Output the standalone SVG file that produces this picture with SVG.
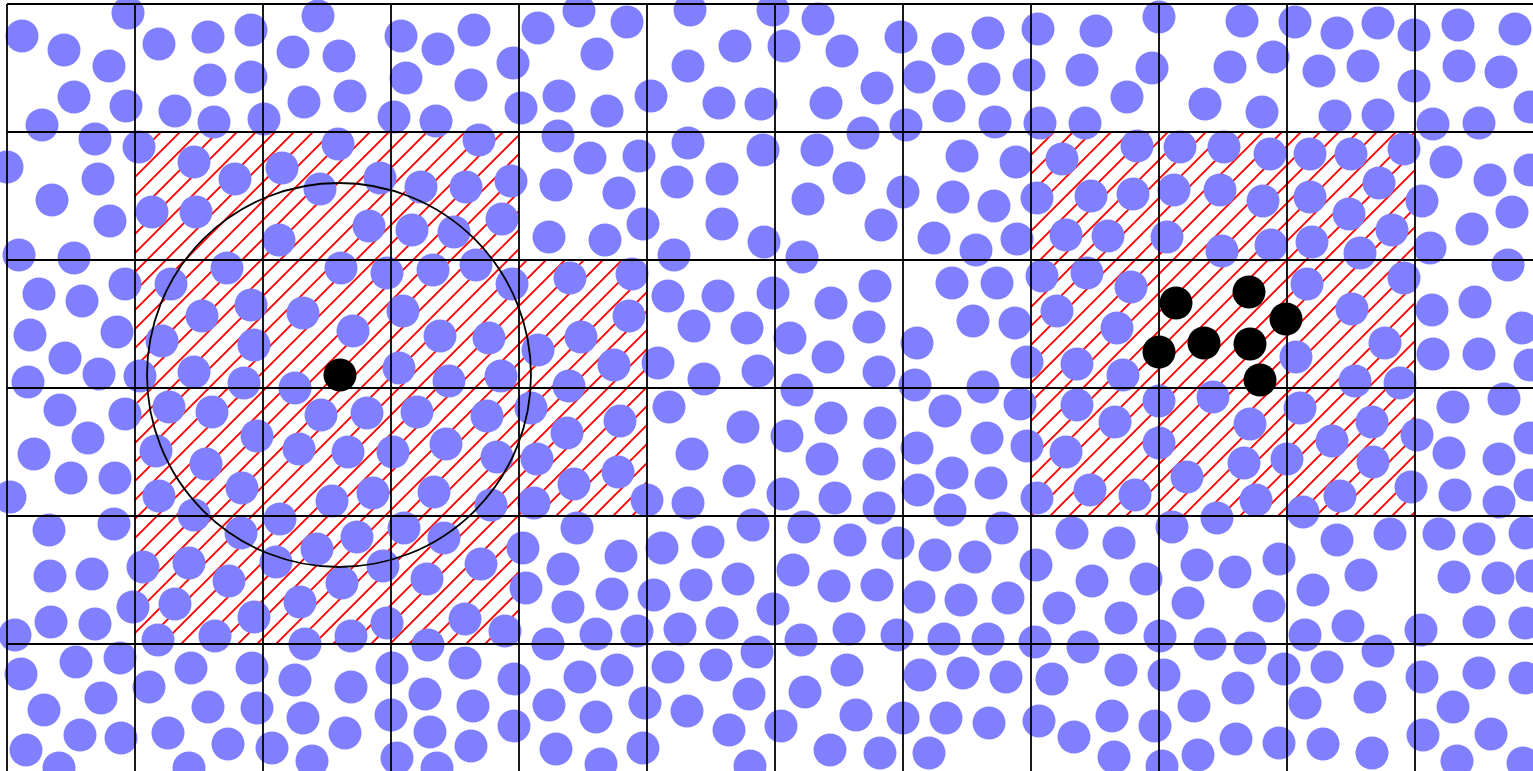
<svg xmlns="http://www.w3.org/2000/svg" width="1533" height="771" viewBox="0 0 1533 771">
<style>
.p circle{fill:#8080ff}
.k circle{fill:#000}
.grid line{stroke:#000;stroke-width:1.8}
</style>
<defs>
<pattern id="hatch" patternUnits="userSpaceOnUse" width="19" height="19" patternTransform="translate(8,0)">
<path d="M-4.75,4.75 L4.75,-4.75 M0,19 L19,0 M14.25,23.75 L23.75,14.25" stroke="#ff0000" stroke-width="1.9" fill="none"/>
</pattern>
</defs>
<rect width="1533" height="771" fill="#fff"/>
<g id="hatched-regions" fill="url(#hatch)">
<path d="M135,132 H519 V260 H647 V516 H519 V644 H135 Z"/>
<rect x="1031" y="132" width="384" height="384"/>
</g>
<g id="particles" class="p">
<circle cx="128" cy="13" r="16.5"/><circle cx="22" cy="36" r="16.5"/><circle cx="64" cy="50" r="16.5"/><circle cx="109" cy="66" r="16.5"/><circle cx="74" cy="97" r="16.5"/><circle cx="126" cy="106" r="16.5"/><circle cx="42" cy="125" r="16.5"/><circle cx="95" cy="139" r="16.5"/><circle cx="139" cy="147" r="16.5"/><circle cx="7" cy="167" r="16.5"/><circle cx="98" cy="179" r="16.5"/><circle cx="52" cy="200" r="16.5"/><circle cx="110" cy="221" r="16.5"/><circle cx="19" cy="255" r="16.5"/><circle cx="74" cy="258" r="16.5"/>
<circle cx="159" cy="44" r="16.5"/><circle cx="208" cy="37" r="16.5"/><circle cx="251" cy="30" r="16.5"/><circle cx="210" cy="80" r="16.5"/><circle cx="251" cy="77" r="16.5"/><circle cx="175" cy="111" r="16.5"/><circle cx="214" cy="122" r="16.5"/><circle cx="264" cy="119" r="16.5"/>
<circle cx="318" cy="16" r="16.5"/><circle cx="293" cy="52" r="16.5"/><circle cx="339" cy="56" r="16.5"/><circle cx="304" cy="102" r="16.5"/><circle cx="350" cy="96" r="16.5"/>
<circle cx="194" cy="162" r="16.5"/><circle cx="235" cy="179" r="16.5"/><circle cx="152" cy="212" r="16.5"/><circle cx="196" cy="212" r="16.5"/><circle cx="282" cy="168" r="16.5"/><circle cx="338" cy="144" r="16.5"/><circle cx="320" cy="189" r="16.5"/><circle cx="380" cy="178" r="16.5"/><circle cx="369" cy="226" r="16.5"/><circle cx="279" cy="240" r="16.5"/><circle cx="227" cy="268" r="16.5"/><circle cx="341" cy="268" r="16.5"/>
<circle cx="401" cy="36" r="16.5"/><circle cx="438" cy="49" r="16.5"/><circle cx="474" cy="30" r="16.5"/><circle cx="513" cy="63" r="16.5"/><circle cx="406" cy="78" r="16.5"/><circle cx="471" cy="85" r="16.5"/><circle cx="394" cy="117" r="16.5"/><circle cx="436" cy="121" r="16.5"/><circle cx="521" cy="108" r="16.5"/><circle cx="479" cy="140" r="16.5"/><circle cx="538" cy="28" r="16.5"/><circle cx="579" cy="11" r="16.5"/><circle cx="627" cy="22" r="16.5"/><circle cx="597" cy="54" r="16.5"/><circle cx="559" cy="96" r="16.5"/><circle cx="607" cy="111" r="16.5"/><circle cx="651" cy="96" r="16.5"/><circle cx="690" cy="10" r="16.5"/><circle cx="735" cy="46" r="16.5"/><circle cx="688" cy="66" r="16.5"/><circle cx="719" cy="103" r="16.5"/><circle cx="761" cy="104" r="16.5"/><circle cx="773" cy="10" r="16.5"/>
<circle cx="558" cy="136" r="16.5"/><circle cx="590" cy="158" r="16.5"/><circle cx="639" cy="156" r="16.5"/><circle cx="556" cy="185" r="16.5"/><circle cx="619" cy="193" r="16.5"/><circle cx="643" cy="224" r="16.5"/><circle cx="549" cy="237" r="16.5"/><circle cx="605" cy="240" r="16.5"/><circle cx="688" cy="143" r="16.5"/><circle cx="763" cy="150" r="16.5"/><circle cx="677" cy="182" r="16.5"/><circle cx="722" cy="179" r="16.5"/><circle cx="722" cy="224" r="16.5"/><circle cx="674" cy="255" r="16.5"/><circle cx="764" cy="242" r="16.5"/>
<circle cx="421" cy="187" r="16.5"/><circle cx="466" cy="187" r="16.5"/><circle cx="511" cy="181" r="16.5"/><circle cx="412" cy="230" r="16.5"/><circle cx="454" cy="232" r="16.5"/><circle cx="502" cy="219" r="16.5"/><circle cx="433" cy="270" r="16.5"/><circle cx="476" cy="265" r="16.5"/>
<circle cx="818" cy="19" r="16.5"/><circle cx="784" cy="46" r="16.5"/><circle cx="842" cy="51" r="16.5"/><circle cx="901" cy="37" r="16.5"/><circle cx="877" cy="88" r="16.5"/><circle cx="826" cy="103" r="16.5"/><circle cx="863" cy="133" r="16.5"/><circle cx="906" cy="125" r="16.5"/><circle cx="948" cy="49" r="16.5"/><circle cx="988" cy="33" r="16.5"/><circle cx="1038" cy="29" r="16.5"/><circle cx="919" cy="77" r="16.5"/><circle cx="984" cy="79" r="16.5"/><circle cx="1029" cy="75" r="16.5"/><circle cx="949" cy="106" r="16.5"/><circle cx="995" cy="122" r="16.5"/><circle cx="1040" cy="123" r="16.5"/><circle cx="1096" cy="31" r="16.5"/><circle cx="1082" cy="70" r="16.5"/><circle cx="1127" cy="97" r="16.5"/><circle cx="1085" cy="123" r="16.5"/>
<circle cx="817" cy="150" r="16.5"/><circle cx="849" cy="178" r="16.5"/><circle cx="808" cy="199" r="16.5"/><circle cx="903" cy="192" r="16.5"/><circle cx="881" cy="225" r="16.5"/><circle cx="802" cy="257" r="16.5"/><circle cx="962" cy="156" r="16.5"/><circle cx="1016" cy="162" r="16.5"/><circle cx="953" cy="197" r="16.5"/><circle cx="994" cy="206" r="16.5"/><circle cx="934" cy="238" r="16.5"/><circle cx="976" cy="250" r="16.5"/><circle cx="1017" cy="239" r="16.5"/><circle cx="1037" cy="198" r="16.5"/><circle cx="1062" cy="159" r="16.5"/><circle cx="1137" cy="146" r="16.5"/><circle cx="1091" cy="196" r="16.5"/><circle cx="1133" cy="194" r="16.5"/><circle cx="1066" cy="235" r="16.5"/><circle cx="1108" cy="236" r="16.5"/>
<circle cx="1159" cy="17" r="16.5"/><circle cx="1242" cy="21" r="16.5"/><circle cx="1295" cy="22" r="16.5"/><circle cx="1152" cy="68" r="16.5"/><circle cx="1230" cy="67" r="16.5"/><circle cx="1273" cy="57" r="16.5"/><circle cx="1205" cy="104" r="16.5"/><circle cx="1262" cy="112" r="16.5"/><circle cx="1337" cy="33" r="16.5"/><circle cx="1378" cy="23" r="16.5"/><circle cx="1414" cy="35" r="16.5"/><circle cx="1319" cy="71" r="16.5"/><circle cx="1363" cy="66" r="16.5"/><circle cx="1414" cy="86" r="16.5"/><circle cx="1335" cy="116" r="16.5"/><circle cx="1378" cy="115" r="16.5"/><circle cx="1458" cy="25" r="16.5"/><circle cx="1515" cy="29" r="16.5"/><circle cx="1459" cy="66" r="16.5"/><circle cx="1501" cy="72" r="16.5"/><circle cx="1530" cy="107" r="16.5"/><circle cx="1433" cy="124" r="16.5"/><circle cx="1479" cy="123" r="16.5"/>
<circle cx="1180" cy="147" r="16.5"/><circle cx="1224" cy="147" r="16.5"/><circle cx="1270" cy="154" r="16.5"/><circle cx="1174" cy="190" r="16.5"/><circle cx="1220" cy="190" r="16.5"/><circle cx="1263" cy="201" r="16.5"/><circle cx="1167" cy="237" r="16.5"/><circle cx="1222" cy="251" r="16.5"/><circle cx="1271" cy="245" r="16.5"/><circle cx="1310" cy="154" r="16.5"/><circle cx="1351" cy="154" r="16.5"/><circle cx="1404" cy="149" r="16.5"/><circle cx="1310" cy="197" r="16.5"/><circle cx="1379" cy="183" r="16.5"/><circle cx="1349" cy="214" r="16.5"/><circle cx="1392" cy="230" r="16.5"/><circle cx="1312" cy="242" r="16.5"/><circle cx="1360" cy="253" r="16.5"/><circle cx="1422" cy="201" r="16.5"/><circle cx="1446" cy="162" r="16.5"/><circle cx="1490" cy="180" r="16.5"/><circle cx="1530" cy="170" r="16.5"/><circle cx="1512" cy="212" r="16.5"/><circle cx="1472" cy="229" r="16.5"/><circle cx="1430" cy="248" r="16.5"/><circle cx="1508" cy="265" r="16.5"/>
<circle cx="39" cy="294" r="16.5"/><circle cx="82" cy="301" r="16.5"/><circle cx="125" cy="284" r="16.5"/><circle cx="30" cy="335" r="16.5"/><circle cx="65" cy="358" r="16.5"/><circle cx="117" cy="332" r="16.5"/><circle cx="28" cy="382" r="16.5"/><circle cx="99" cy="374" r="16.5"/><circle cx="140" cy="376" r="16.5"/><circle cx="60" cy="410" r="16.5"/><circle cx="125" cy="414" r="16.5"/><circle cx="88" cy="438" r="16.5"/><circle cx="34" cy="454" r="16.5"/><circle cx="71" cy="478" r="16.5"/><circle cx="115" cy="478" r="16.5"/><circle cx="10" cy="497" r="16.5"/>
<circle cx="171" cy="284" r="16.5"/><circle cx="202" cy="316" r="16.5"/><circle cx="251" cy="305" r="16.5"/><circle cx="162" cy="341" r="16.5"/><circle cx="254" cy="345" r="16.5"/><circle cx="194" cy="372" r="16.5"/><circle cx="244" cy="383" r="16.5"/><circle cx="169" cy="407" r="16.5"/><circle cx="212" cy="412" r="16.5"/><circle cx="257" cy="436" r="16.5"/><circle cx="156" cy="451" r="16.5"/><circle cx="206" cy="464" r="16.5"/><circle cx="159" cy="496" r="16.5"/><circle cx="242" cy="488" r="16.5"/>
<circle cx="303" cy="313" r="16.5"/><circle cx="353" cy="331" r="16.5"/><circle cx="295" cy="388" r="16.5"/><circle cx="321" cy="415" r="16.5"/><circle cx="367" cy="413" r="16.5"/><circle cx="299" cy="449" r="16.5"/><circle cx="348" cy="452" r="16.5"/><circle cx="332" cy="501" r="16.5"/><circle cx="373" cy="493" r="16.5"/>
<circle cx="387" cy="273" r="16.5"/><circle cx="512" cy="284" r="16.5"/><circle cx="403" cy="311" r="16.5"/><circle cx="440" cy="336" r="16.5"/><circle cx="489" cy="338" r="16.5"/><circle cx="399" cy="368" r="16.5"/><circle cx="449" cy="381" r="16.5"/><circle cx="501" cy="376" r="16.5"/><circle cx="417" cy="412" r="16.5"/><circle cx="487" cy="416" r="16.5"/><circle cx="393" cy="452" r="16.5"/><circle cx="446" cy="444" r="16.5"/><circle cx="497" cy="457" r="16.5"/><circle cx="434" cy="492" r="16.5"/><circle cx="491" cy="505" r="16.5"/>
<circle cx="570" cy="278" r="16.5"/><circle cx="632" cy="274" r="16.5"/><circle cx="538" cy="350" r="16.5"/><circle cx="581" cy="337" r="16.5"/><circle cx="629" cy="316" r="16.5"/><circle cx="614" cy="365" r="16.5"/><circle cx="569" cy="386" r="16.5"/><circle cx="531" cy="408" r="16.5"/><circle cx="567" cy="433" r="16.5"/><circle cx="620" cy="421" r="16.5"/><circle cx="537" cy="459" r="16.5"/><circle cx="618" cy="472" r="16.5"/><circle cx="574" cy="484" r="16.5"/><circle cx="534" cy="503" r="16.5"/><circle cx="647" cy="500" r="16.5"/>
<circle cx="668" cy="296" r="16.5"/><circle cx="718" cy="296" r="16.5"/><circle cx="694" cy="326" r="16.5"/><circle cx="747" cy="328" r="16.5"/><circle cx="773" cy="293" r="16.5"/><circle cx="658" cy="363" r="16.5"/><circle cx="704" cy="379" r="16.5"/><circle cx="758" cy="371" r="16.5"/><circle cx="669" cy="407" r="16.5"/><circle cx="743" cy="427" r="16.5"/><circle cx="692" cy="454" r="16.5"/><circle cx="739" cy="481" r="16.5"/><circle cx="688" cy="503" r="16.5"/>
<circle cx="831" cy="303" r="16.5"/><circle cx="875" cy="286" r="16.5"/><circle cx="790" cy="338" r="16.5"/><circle cx="869" cy="327" r="16.5"/><circle cx="828" cy="357" r="16.5"/><circle cx="879" cy="372" r="16.5"/><circle cx="797" cy="390" r="16.5"/><circle cx="831" cy="418" r="16.5"/><circle cx="880" cy="423" r="16.5"/><circle cx="787" cy="436" r="16.5"/><circle cx="822" cy="459" r="16.5"/><circle cx="879" cy="464" r="16.5"/><circle cx="783" cy="494" r="16.5"/><circle cx="835" cy="498" r="16.5"/><circle cx="879" cy="508" r="16.5"/>
<circle cx="952" cy="283" r="16.5"/><circle cx="997" cy="283" r="16.5"/><circle cx="917" cy="343" r="16.5"/><circle cx="973" cy="321" r="16.5"/><circle cx="1015" cy="323" r="16.5"/><circle cx="1027" cy="362" r="16.5"/><circle cx="915" cy="385" r="16.5"/><circle cx="983" cy="387" r="16.5"/><circle cx="1020" cy="404" r="16.5"/><circle cx="945" cy="411" r="16.5"/><circle cx="987" cy="438" r="16.5"/><circle cx="917" cy="448" r="16.5"/><circle cx="1027" cy="446" r="16.5"/><circle cx="952" cy="473" r="16.5"/><circle cx="991" cy="483" r="16.5"/><circle cx="918" cy="490" r="16.5"/><circle cx="950" cy="510" r="16.5"/><circle cx="1037" cy="498" r="16.5"/>
<circle cx="1042" cy="276" r="16.5"/><circle cx="1087" cy="273" r="16.5"/><circle cx="1131" cy="287" r="16.5"/><circle cx="1057" cy="311" r="16.5"/><circle cx="1117" cy="328" r="16.5"/><circle cx="1077" cy="364" r="16.5"/><circle cx="1123" cy="375" r="16.5"/><circle cx="1077" cy="405" r="16.5"/><circle cx="1115" cy="422" r="16.5"/><circle cx="1066" cy="452" r="16.5"/><circle cx="1090" cy="490" r="16.5"/><circle cx="1135" cy="495" r="16.5"/>
<circle cx="1159" cy="401" r="16.5"/><circle cx="1213" cy="397" r="16.5"/><circle cx="1250" cy="424" r="16.5"/><circle cx="1159" cy="443" r="16.5"/><circle cx="1244" cy="463" r="16.5"/><circle cx="1187" cy="477" r="16.5"/><circle cx="1256" cy="500" r="16.5"/>
<circle cx="1307" cy="284" r="16.5"/><circle cx="1404" cy="278" r="16.5"/><circle cx="1352" cy="309" r="16.5"/><circle cx="1385" cy="343" r="16.5"/><circle cx="1296" cy="357" r="16.5"/><circle cx="1355" cy="381" r="16.5"/><circle cx="1400" cy="383" r="16.5"/><circle cx="1300" cy="408" r="16.5"/><circle cx="1372" cy="422" r="16.5"/><circle cx="1332" cy="441" r="16.5"/><circle cx="1287" cy="459" r="16.5"/><circle cx="1373" cy="462" r="16.5"/><circle cx="1417" cy="435" r="16.5"/><circle cx="1340" cy="496" r="16.5"/><circle cx="1411" cy="487" r="16.5"/>
<circle cx="1432" cy="310" r="16.5"/><circle cx="1475" cy="302" r="16.5"/><circle cx="1522" cy="328" r="16.5"/><circle cx="1433" cy="354" r="16.5"/><circle cx="1479" cy="354" r="16.5"/><circle cx="1530" cy="365" r="16.5"/><circle cx="1453" cy="407" r="16.5"/><circle cx="1504" cy="399" r="16.5"/><circle cx="1530" cy="438" r="16.5"/><circle cx="1449" cy="453" r="16.5"/><circle cx="1499" cy="459" r="16.5"/><circle cx="1455" cy="495" r="16.5"/><circle cx="1499" cy="502" r="16.5"/><circle cx="1530" cy="485" r="16.5"/>
<circle cx="49" cy="530" r="16.5"/><circle cx="114" cy="524" r="16.5"/><circle cx="50" cy="576" r="16.5"/><circle cx="92" cy="574" r="16.5"/><circle cx="51" cy="622" r="16.5"/><circle cx="95" cy="624" r="16.5"/><circle cx="15" cy="635" r="16.5"/><circle cx="133" cy="607" r="16.5"/><circle cx="76" cy="662" r="16.5"/><circle cx="120" cy="658" r="16.5"/><circle cx="21" cy="674" r="16.5"/><circle cx="101" cy="698" r="16.5"/><circle cx="44" cy="710" r="16.5"/><circle cx="80" cy="735" r="16.5"/><circle cx="121" cy="738" r="16.5"/><circle cx="26" cy="750" r="16.5"/><circle cx="59" cy="768" r="16.5"/>
<circle cx="194" cy="515" r="16.5"/><circle cx="241" cy="533" r="16.5"/><circle cx="143" cy="567" r="16.5"/><circle cx="189" cy="563" r="16.5"/><circle cx="229" cy="581" r="16.5"/><circle cx="175" cy="604" r="16.5"/><circle cx="254" cy="617" r="16.5"/><circle cx="158" cy="640" r="16.5"/><circle cx="215" cy="636" r="16.5"/>
<circle cx="280" cy="519" r="16.5"/><circle cx="317" cy="549" r="16.5"/><circle cx="357" cy="537" r="16.5"/><circle cx="276" cy="562" r="16.5"/><circle cx="342" cy="583" r="16.5"/><circle cx="300" cy="602" r="16.5"/><circle cx="351" cy="636" r="16.5"/><circle cx="305" cy="644" r="16.5"/>
<circle cx="191" cy="668" r="16.5"/><circle cx="252" cy="668" r="16.5"/><circle cx="149" cy="687" r="16.5"/><circle cx="208" cy="707" r="16.5"/><circle cx="257" cy="708" r="16.5"/><circle cx="168" cy="733" r="16.5"/><circle cx="228" cy="744" r="16.5"/><circle cx="189" cy="768" r="16.5"/>
<circle cx="295" cy="680" r="16.5"/><circle cx="351" cy="687" r="16.5"/><circle cx="303" cy="718" r="16.5"/><circle cx="345" cy="733" r="16.5"/><circle cx="272" cy="748" r="16.5"/><circle cx="312" cy="761" r="16.5"/>
<circle cx="404" cy="528" r="16.5"/><circle cx="444" cy="538" r="16.5"/><circle cx="383" cy="566" r="16.5"/><circle cx="427" cy="579" r="16.5"/><circle cx="481" cy="564" r="16.5"/><circle cx="523" cy="548" r="16.5"/><circle cx="526" cy="588" r="16.5"/><circle cx="465" cy="619" r="16.5"/><circle cx="387" cy="623" r="16.5"/><circle cx="505" cy="631" r="16.5"/><circle cx="428" cy="645" r="16.5"/>
<circle cx="577" cy="528" r="16.5"/><circle cx="621" cy="556" r="16.5"/><circle cx="563" cy="569" r="16.5"/><circle cx="612" cy="594" r="16.5"/><circle cx="568" cy="607" r="16.5"/><circle cx="596" cy="634" r="16.5"/><circle cx="637" cy="631" r="16.5"/><circle cx="548" cy="644" r="16.5"/>
<circle cx="662" cy="548" r="16.5"/><circle cx="708" cy="542" r="16.5"/><circle cx="753" cy="525" r="16.5"/><circle cx="654" cy="595" r="16.5"/><circle cx="696" cy="585" r="16.5"/><circle cx="738" cy="579" r="16.5"/><circle cx="680" cy="629" r="16.5"/><circle cx="722" cy="623" r="16.5"/>
<circle cx="392" cy="668" r="16.5"/><circle cx="465" cy="663" r="16.5"/><circle cx="514" cy="679" r="16.5"/><circle cx="425" cy="694" r="16.5"/><circle cx="473" cy="706" r="16.5"/><circle cx="391" cy="715" r="16.5"/><circle cx="430" cy="732" r="16.5"/><circle cx="514" cy="726" r="16.5"/><circle cx="471" cy="746" r="16.5"/><circle cx="397" cy="758" r="16.5"/><circle cx="437" cy="768" r="16.5"/>
<circle cx="580" cy="677" r="16.5"/><circle cx="617" cy="670" r="16.5"/><circle cx="549" cy="705" r="16.5"/><circle cx="596" cy="717" r="16.5"/><circle cx="645" cy="703" r="16.5"/><circle cx="556" cy="749" r="16.5"/><circle cx="601" cy="764" r="16.5"/><circle cx="643" cy="748" r="16.5"/>
<circle cx="668" cy="667" r="16.5"/><circle cx="716" cy="665" r="16.5"/><circle cx="757" cy="652" r="16.5"/><circle cx="687" cy="711" r="16.5"/><circle cx="749" cy="694" r="16.5"/><circle cx="729" cy="730" r="16.5"/><circle cx="750" cy="766" r="16.5"/>
<circle cx="804" cy="527" r="16.5"/><circle cx="850" cy="540" r="16.5"/><circle cx="898" cy="543" r="16.5"/><circle cx="793" cy="570" r="16.5"/><circle cx="834" cy="586" r="16.5"/><circle cx="877" cy="585" r="16.5"/><circle cx="773" cy="609" r="16.5"/><circle cx="849" cy="629" r="16.5"/><circle cx="801" cy="640" r="16.5"/><circle cx="897" cy="635" r="16.5"/><circle cx="847" cy="670" r="16.5"/><circle cx="805" cy="692" r="16.5"/><circle cx="856" cy="715" r="16.5"/><circle cx="781" cy="726" r="16.5"/><circle cx="903" cy="718" r="16.5"/><circle cx="830" cy="750" r="16.5"/><circle cx="880" cy="753" r="16.5"/>
<circle cx="1002" cy="528" r="16.5"/><circle cx="935" cy="555" r="16.5"/><circle cx="975" cy="557" r="16.5"/><circle cx="1036" cy="565" r="16.5"/><circle cx="919" cy="597" r="16.5"/><circle cx="961" cy="600" r="16.5"/><circle cx="1008" cy="598" r="16.5"/><circle cx="944" cy="639" r="16.5"/><circle cx="988" cy="639" r="16.5"/><circle cx="1035" cy="642" r="16.5"/><circle cx="920" cy="675" r="16.5"/><circle cx="963" cy="673" r="16.5"/><circle cx="1006" cy="677" r="16.5"/><circle cx="946" cy="718" r="16.5"/><circle cx="989" cy="723" r="16.5"/><circle cx="1039" cy="721" r="16.5"/><circle cx="929" cy="753" r="16.5"/>
<circle cx="1072" cy="533" r="16.5"/><circle cx="1119" cy="543" r="16.5"/><circle cx="1092" cy="581" r="16.5"/><circle cx="1146" cy="579" r="16.5"/><circle cx="1059" cy="608" r="16.5"/><circle cx="1121" cy="618" r="16.5"/><circle cx="1083" cy="647" r="16.5"/><circle cx="1052" cy="679" r="16.5"/><circle cx="1121" cy="670" r="16.5"/><circle cx="1112" cy="716" r="16.5"/><circle cx="1074" cy="737" r="16.5"/><circle cx="1114" cy="757" r="16.5"/>
<circle cx="1172" cy="527" r="16.5"/><circle cx="1217" cy="518" r="16.5"/><circle cx="1303" cy="512" r="16.5"/><circle cx="1197" cy="565" r="16.5"/><circle cx="1235" cy="572" r="16.5"/><circle cx="1279" cy="559" r="16.5"/><circle cx="1188" cy="603" r="16.5"/><circle cx="1269" cy="606" r="16.5"/><circle cx="1160" cy="636" r="16.5"/><circle cx="1210" cy="644" r="16.5"/><circle cx="1250" cy="648" r="16.5"/><circle cx="1164" cy="675" r="16.5"/><circle cx="1194" cy="706" r="16.5"/><circle cx="1238" cy="688" r="16.5"/><circle cx="1284" cy="669" r="16.5"/><circle cx="1155" cy="726" r="16.5"/><circle cx="1236" cy="739" r="16.5"/><circle cx="1198" cy="755" r="16.5"/><circle cx="1279" cy="743" r="16.5"/><circle cx="1162" cy="766" r="16.5"/>
<circle cx="1337" cy="540" r="16.5"/><circle cx="1390" cy="534" r="16.5"/><circle cx="1313" cy="590" r="16.5"/><circle cx="1361" cy="575" r="16.5"/><circle cx="1305" cy="635" r="16.5"/><circle cx="1348" cy="626" r="16.5"/><circle cx="1421" cy="630" r="16.5"/><circle cx="1378" cy="651" r="16.5"/><circle cx="1327" cy="667" r="16.5"/><circle cx="1305" cy="703" r="16.5"/><circle cx="1370" cy="697" r="16.5"/><circle cx="1323" cy="744" r="16.5"/><circle cx="1372" cy="753" r="16.5"/><circle cx="1422" cy="677" r="16.5"/><circle cx="1423" cy="735" r="16.5"/>
<circle cx="1439" cy="534" r="16.5"/><circle cx="1479" cy="539" r="16.5"/><circle cx="1525" cy="533" r="16.5"/><circle cx="1454" cy="577" r="16.5"/><circle cx="1498" cy="578" r="16.5"/><circle cx="1532" cy="576" r="16.5"/><circle cx="1479" cy="622" r="16.5"/><circle cx="1525" cy="623" r="16.5"/><circle cx="1479" cy="673" r="16.5"/><circle cx="1525" cy="678" r="16.5"/><circle cx="1453" cy="707" r="16.5"/><circle cx="1491" cy="734" r="16.5"/><circle cx="1457" cy="761" r="16.5"/><circle cx="1523" cy="763" r="16.5"/>
</g>
<g id="grid" class="grid">
<line x1="7" y1="4" x2="7" y2="771"/><line x1="135" y1="4" x2="135" y2="771"/><line x1="263" y1="4" x2="263" y2="771"/><line x1="391" y1="4" x2="391" y2="771"/><line x1="519" y1="4" x2="519" y2="771"/><line x1="647" y1="4" x2="647" y2="771"/><line x1="775" y1="4" x2="775" y2="771"/><line x1="903" y1="4" x2="903" y2="771"/><line x1="1031" y1="4" x2="1031" y2="771"/><line x1="1159" y1="4" x2="1159" y2="771"/><line x1="1287" y1="4" x2="1287" y2="771"/><line x1="1415" y1="4" x2="1415" y2="771"/>
<line x1="7" y1="4" x2="1533" y2="4"/><line x1="7" y1="132" x2="1533" y2="132"/><line x1="7" y1="260" x2="1533" y2="260"/><line x1="7" y1="388" x2="1533" y2="388"/><line x1="7" y1="516" x2="1533" y2="516"/><line x1="7" y1="644" x2="1533" y2="644"/>
</g>
<g id="cutoff-circle">
<circle cx="339" cy="375" r="192" fill="none" stroke="#000" stroke-width="1.8"/>
</g>
<g id="selected-particles" class="k">
<circle cx="340" cy="375" r="16.5"/>
<circle cx="1176" cy="303" r="16.5"/><circle cx="1249" cy="292" r="16.5"/><circle cx="1286" cy="319" r="16.5"/><circle cx="1159" cy="352" r="16.5"/><circle cx="1204" cy="343" r="16.5"/><circle cx="1250" cy="344" r="16.5"/><circle cx="1260" cy="380" r="16.5"/>
</g>
</svg>
